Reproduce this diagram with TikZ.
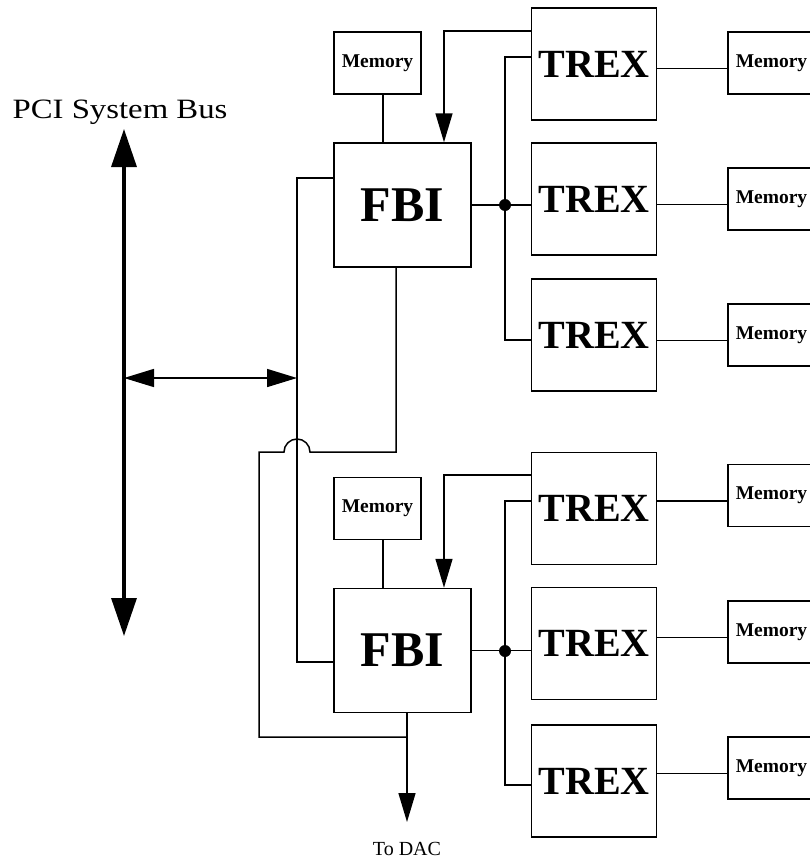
\documentclass[tikz,border=0pt]{standalone}
\usepackage{fontspec}
\setmainfont{Liberation Serif}
\usetikzlibrary{arrows.meta}
\begin{document}
\begin{tikzpicture}[x=1pt,y=-1pt,
  box/.style={draw,line width=1.5pt,inner sep=0pt,font=\bfseries},
  memL/.style={box,minimum width=87pt,minimum height=62pt,font=\bfseries\fontsize{19.5}{20}\selectfont},
  fbi/.style={box,minimum width=137pt,minimum height=124pt,font=\bfseries\fontsize{50}{50}\selectfont},
  trex/.style={box,minimum width=125pt,minimum height=112pt,font=\bfseries\fontsize{40}{40}\selectfont},
  wire/.style={line width=1.5pt},
  bigarr/.style={line width=3.3pt,{Triangle[length=38pt,width=25pt]}-{Triangle[length=38pt,width=25pt]}},
  harr/.style={line width=1.5pt,{Triangle[length=30pt,width=18pt]}-{Triangle[length=30pt,width=18pt]}},
  darr/.style={line width=1.5pt,-{Triangle[length=29pt,width=17pt]}},
  dot/.style={circle,fill,inner sep=0pt,minimum size=12pt}
]
\useasboundingbox (0,0) rectangle (809,867);

% ---- upper group ----
\node[memL] (memT) at (377.5,63) {Memory};
\node[fbi] (fbiT) at (402.5,205) {FBI};
\node[trex] (trex1) at (594,64) {TREX};
\node[trex] (trex2) at (594,199) {TREX};
\node[trex] (trex3) at (594,335) {TREX};
\node[memL] (rm1) at (771.5,63) {Memory};
\node[memL] (rm2) at (771.5,199) {Memory};
\node[memL] (rm3) at (771.5,335) {Memory};

% ---- lower group ----
\node[memL] (memB) at (377.5,508.5) {Memory};
\node[fbi] (fbiB) at (402.5,650.5) {FBI};
\node[trex] (trex4) at (594,508.5) {TREX};
\node[trex] (trex5) at (594,643.5) {TREX};
\node[trex] (trex6) at (594,781) {TREX};
\node[memL] (rm4) at (771.5,495.5) {Memory};
\node[memL] (rm5) at (771.5,632) {Memory};
\node[memL] (rm6) at (771.5,768) {Memory};

% ---- labels / bus ----
\node[font=\fontsize{28}{28}\selectfont,xscale=1.17] (pci) at (120,112) {PCI System Bus};
\coordinate (busT) at (124,129);
\coordinate (busB) at (124,636);
\coordinate (busM) at (124,378);
\coordinate (vM) at (297,378);
\coordinate (jT) at (505,205);
\coordinate (jB) at (505,651);
\coordinate (dacTip) at (407,822);
\node[font=\fontsize{20}{20}\selectfont] (dac) at (407,849) {To DAC};

\draw[bigarr] (busT) -- (busB);
\draw[harr] (busM) -- (vM);

% vertical feed line between the two FBIs
\draw[wire] ([yshift=27pt]fbiT.west) -| (vM) |- ([yshift=-11.5pt]fbiB.west);

% memory to FBI
\draw[wire] ([xshift=5.5pt]memT.south) -- ([xshift=5.5pt]memT.south |- fbiT.north);
\draw[wire] ([xshift=5.5pt]memB.south) -- ([xshift=5.5pt]memB.south |- fbiB.north);

% TREX feedback arrows into FBI
\draw[darr] ([yshift=-24pt]trex1.north west) -| ([xshift=41.5pt]fbiT.north);
\draw[darr] ([yshift=-23pt]trex4.north west) -| ([xshift=41.5pt]fbiB.north);

% FBI to TREX branches
\draw[wire] (fbiT.east) -- (fbiT.east -| trex2.west);
\draw[wire] ([yshift=7pt]trex1.west) -| (jT) |- ([yshift=-5pt]trex3.west);
\node[dot] at (jT) {};
\draw[wire] (fbiB.east) -- (fbiB.east -| trex5.west);
\draw[wire] ([yshift=7.5pt]trex4.west) -| (jB) |- ([yshift=-4pt]trex6.west);
\node[dot] at (jB) {};

% TREX to memory
\foreach \t/\m in {trex1/rm1,trex2/rm2,trex3/rm3,trex4/rm4,trex5/rm5,trex6/rm6}{
  \draw[wire] ([yshift=-5.5pt]\m.west) -- ([yshift=-5.5pt]\m.west -| \t.east);
}

% upper FBI output with hop, to DAC
\draw[wire] ([xshift=-6.5pt]fbiT.south) |- (310,452)
  arc[start angle=0,end angle=180,radius=13pt] -- (259,452) |- (407,737);
\draw[darr] ([xshift=4.5pt]fbiB.south) -- (dacTip);
\end{tikzpicture}
\end{document}
